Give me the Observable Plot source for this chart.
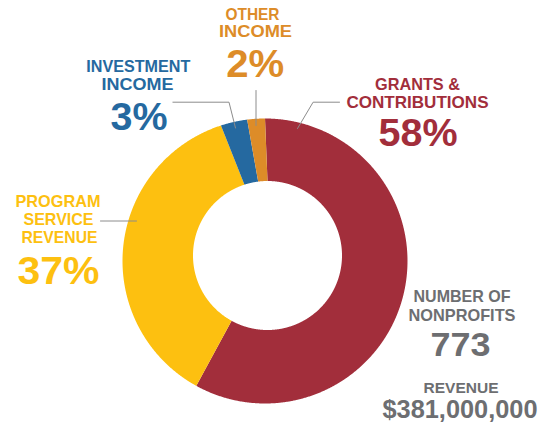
<!DOCTYPE html>
<html><head><meta charset="utf-8">
<script src="https://cdn.jsdelivr.net/npm/d3@7"></script>
<script src="https://cdn.jsdelivr.net/npm/@observablehq/plot@0.6"></script>
<style>html,body{margin:0;padding:0;background:#fff;} #chart svg{display:block;}</style>
</head><body><div id="chart"></div>
<script>
// ---- data ----
const categories = ["Grants & Contributions", "Program Service Revenue", "Investment Income", "Other Income"];
const shares = [58, 37, 3, 2];
const sliceColors = ["#A22E3B", "#FDC010", "#2569A0", "#DD8C28"];
const labelLines = [["GRANTS &", "CONTRIBUTIONS"], ["PROGRAM", "SERVICE", "REVENUE"], ["INVESTMENT", "INCOME"], ["OTHER", "INCOME"]];
const statNames = [["NUMBER OF", "NONPROFITS"], ["REVENUE"]];
const statValues = ["773", "$381,000,000"];
const statColor = "#6D6E71";

// ---- layout ----
const W = 540, H = 424;
const outer = {cx: 264.5, cy: 260.5, r: 142.5};
const inner = {cx: 267, cy: 255, r: 74.5};
const FONT = "Liberation Sans";
const LABEL_SIZE = 16.5, PCT_SIZE = 38;
// per category: centre x, line y's, widths; percent y, width
const labelLayout = [
  {lines: [{x: 417, y: 84, w: 85}, {x: 417, y: 102.5, w: 142}], pct: {x: 417.5, y: 133.5, w: 79}},
  {lines: [{x: 57.5, y: 201, w: 85}, {x: 58, y: 219.5, w: 70}, {x: 59, y: 237.5, w: 76}], pct: {x: 58, y: 271, w: 82}},
  {lines: [{x: 137.8, y: 66, w: 104}, {x: 137, y: 84, w: 72}], pct: {x: 138.5, y: 117, w: 57}},
  {lines: [{x: 252, y: 14, w: 54}, {x: 255, y: 31.5, w: 73}], pct: {x: 254.8, y: 64.5, w: 58}}
];
const statLayout = [
  {lines: [{x: 461.5, y: 296.5, w: 97, size: 16.5}, {x: 461.5, y: 315, w: 107, size: 16.5}], value: {x: 460, y: 345, w: 60, size: 34}},
  {lines: [{x: 460.5, y: 387.5, w: 75, size: 15.5}], value: {x: 459.5, y: 409, w: 155, size: 25.5}}
];
const leaders = [
  [[297, 128], [312.6, 101.7], [339, 101.7]],
  [[100, 220.5], [136, 220.5]],
  [[172.4, 101.7], [228.5, 101.7], [235, 127.5]],
  [[255.5, 90], [255.5, 125]]
];

// ---- slices ----
const arcs = d3.pie().sort(null).value(d => d.share)(
  categories.map((c, i) => ({category: c, share: shares[i], color: sliceColors[i]}))
);
const slices = arcs.map(a => {
  const n = Math.max(6, Math.ceil((a.endAngle - a.startAngle) / 0.005));
  const pts = [];
  for (let k = 0; k <= n; k++) {
    const t = a.startAngle + (a.endAngle - a.startAngle) * k / n;
    pts.push({x: outer.cx + outer.r * Math.sin(t), y: outer.cy - outer.r * Math.cos(t)});
  }
  for (let k = n; k >= 0; k--) {
    const t = a.startAngle + (a.endAngle - a.startAngle) * k / n;
    pts.push({x: inner.cx + inner.r * Math.sin(t), y: inner.cy - inner.r * Math.cos(t)});
  }
  return {color: a.data.color, pts};
});

// ---- text labels ----
const labels = [];
categories.forEach((c, i) => {
  const L = labelLayout[i];
  labelLines[i].forEach((s, j) => labels.push({text: s, x: L.lines[j].x, y: L.lines[j].y, w: L.lines[j].w, size: LABEL_SIZE, color: sliceColors[i]}));
  labels.push({text: shares[i] + "%", x: L.pct.x, y: L.pct.y, w: L.pct.w, size: PCT_SIZE, color: sliceColors[i]});
});
statNames.forEach((names, i) => {
  const L = statLayout[i];
  names.forEach((s, j) => labels.push({text: s, x: L.lines[j].x, y: L.lines[j].y, w: L.lines[j].w, size: L.lines[j].size, color: statColor}));
  labels.push({text: statValues[i], x: L.value.x, y: L.value.y, w: L.value.w, size: L.value.size, color: statColor});
});

const marks = [
  ...slices.map(s => Plot.line(s.pts, {x: "x", y: "y", fill: s.color, stroke: "none"})),
  ...leaders.map(l => Plot.line(l, {x: d => d[0], y: d => d[1], stroke: "#8C8C8C", strokeWidth: 1})),
  Plot.text(labels, {x: "x", y: "y", text: "text", fill: "color", fontSize: "size",
    fontWeight: "bold", fontFamily: FONT, textAnchor: "middle", lineAnchor: "middle"})
];

const svg = Plot.plot({
  width: W, height: H, margin: 0,
  x: {type: "identity", axis: null},
  y: {type: "identity", axis: null},
  color: {type: "identity"},
  style: {background: "#fff", overflow: "visible"},
  marks
});
svg.querySelectorAll('g[aria-label="text"] text').forEach((t, i) => {
  if (labels[i]) {
    t.setAttribute("textLength", labels[i].w);
    t.setAttribute("lengthAdjust", "spacingAndGlyphs");
  }
});
document.getElementById("chart").appendChild(svg);
</script>
</body></html>
